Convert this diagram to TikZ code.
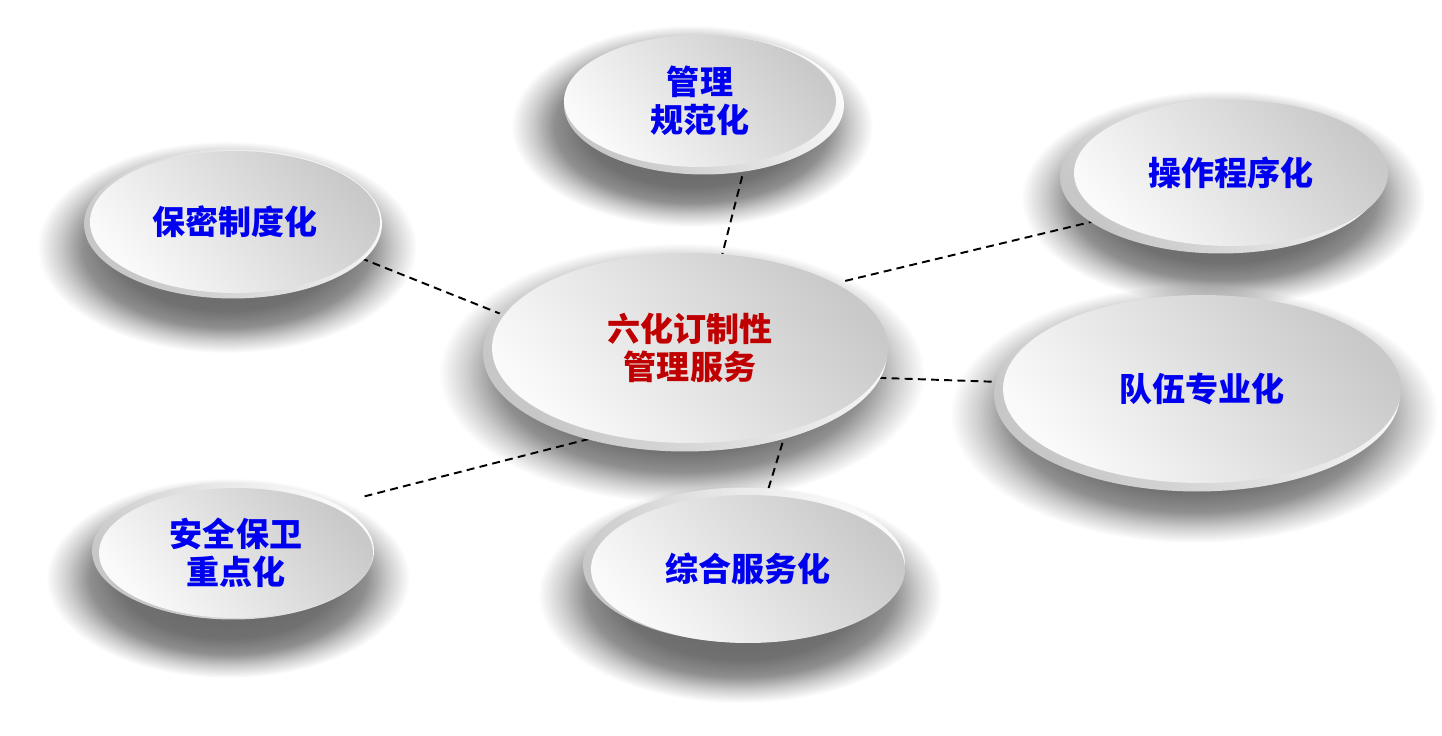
\documentclass[tikz,border=0pt]{standalone}
\usepackage{fontspec}
\newfontfamily\cjk{Noto Sans CJK SC}
\usetikzlibrary{shapes.geometric}
\pgfdeclarelayer{shadowlayer}
\pgfdeclarelayer{linelayer}
\pgfsetlayers{shadowlayer,linelayer,main}
\definecolor{txtblue}{RGB}{0,0,240}
\definecolor{txtred}{RGB}{192,0,0}
\pgfdeclareradialshading{plateshadow}{\pgfpoint{0bp}{0bp}}{color(0bp)=(black!62); color(15bp)=(black!56); color(19bp)=(black!44); color(22bp)=(black!20); color(25bp)=(white); color(50bp)=(white)}
\tikzset{
  platesh/.style={ellipse, inner sep=0pt, shading=plateshadow, blend mode=multiply},
  platerim/.style={ellipse, inner sep=0pt, top color=black!2, bottom color=black!22, shading angle=-50},
  plate/.style={ellipse, inner sep=0pt, align=center, top color=black!21, bottom color=black!2,
    shading angle=-50, font=\cjk\bfseries\fontsize{18.8}{21.6}\selectfont, text=txtblue},
  link/.style={draw=black, line width=1.1pt, dash pattern=on 4.5pt off 3pt},
}
\newcommand\mkplate[9]{%
  \begin{pgfonlayer}{shadowlayer}
    \node[platesh, minimum width=#4cm+1.8cm, minimum height=#5cm+1.4cm] (#1sh) at (#2-8,#3+25) {};
  \end{pgfonlayer}
  \node[platerim, minimum width=#4cm+0.16cm, minimum height=#5cm+0.14cm] (#1rim) at (#2+#6,#3+#7) {};
  \node[plate, minimum width=#4cm, minimum height=#5cm, #8] (#1) at (#2,#3) {#9};
}
\begin{document}
\begin{tikzpicture}[x=0.02cm, y=-0.02cm]
\useasboundingbox (0,0) rectangle (1442,736);
\begin{pgfonlayer}{shadowlayer}
  \fill[white] (0,0) rectangle (1442,736);
\end{pgfonlayer}
\mkplate{gl}{700}{101}{5.44}{2.64}{4}{4}{}{管理\\规范化}
\mkplate{cz}{1231}{173}{6.28}{2.92}{-10}{4}{}{操作程序化}
\mkplate{bm}{235}{222}{5.80}{2.84}{-2}{2}{}{保密制度化}
\mkplate{ctr}{690}{348}{7.92}{3.80}{-5}{5}{text=txtred}{六化订制性\\管理服务}
\mkplate{dw}{1202}{389}{7.96}{3.76}{-5}{5}{}{队伍专业化}
\mkplate{aq}{236}{553}{5.48}{2.60}{-3}{-2}{}{安全保卫\\重点化}
\mkplate{zh}{748}{569}{6.28}{2.96}{-4}{-4}{}{综合服务化}
\begin{pgfonlayer}{linelayer}
  \draw[link] (gl.-54) -- (ctr.71);
  \draw[link] (bm.-16.9) -- (ctr.170.3);
  \draw[link, shorten <=0.2cm, shorten >=0.22cm] (ctr.24.7) -- (cz.-160.4);
  \draw[link] (ctr.-9.1) -- (dw.178.3);
  \draw[link, shorten <=0.72cm] (aq.27) -- (ctr.-134.4);
  \draw[link, shorten <=0.24cm, shorten >=0.12cm] (ctr.-41.4) -- (zh.76.7);
\end{pgfonlayer}
\end{tikzpicture}
\end{document}
